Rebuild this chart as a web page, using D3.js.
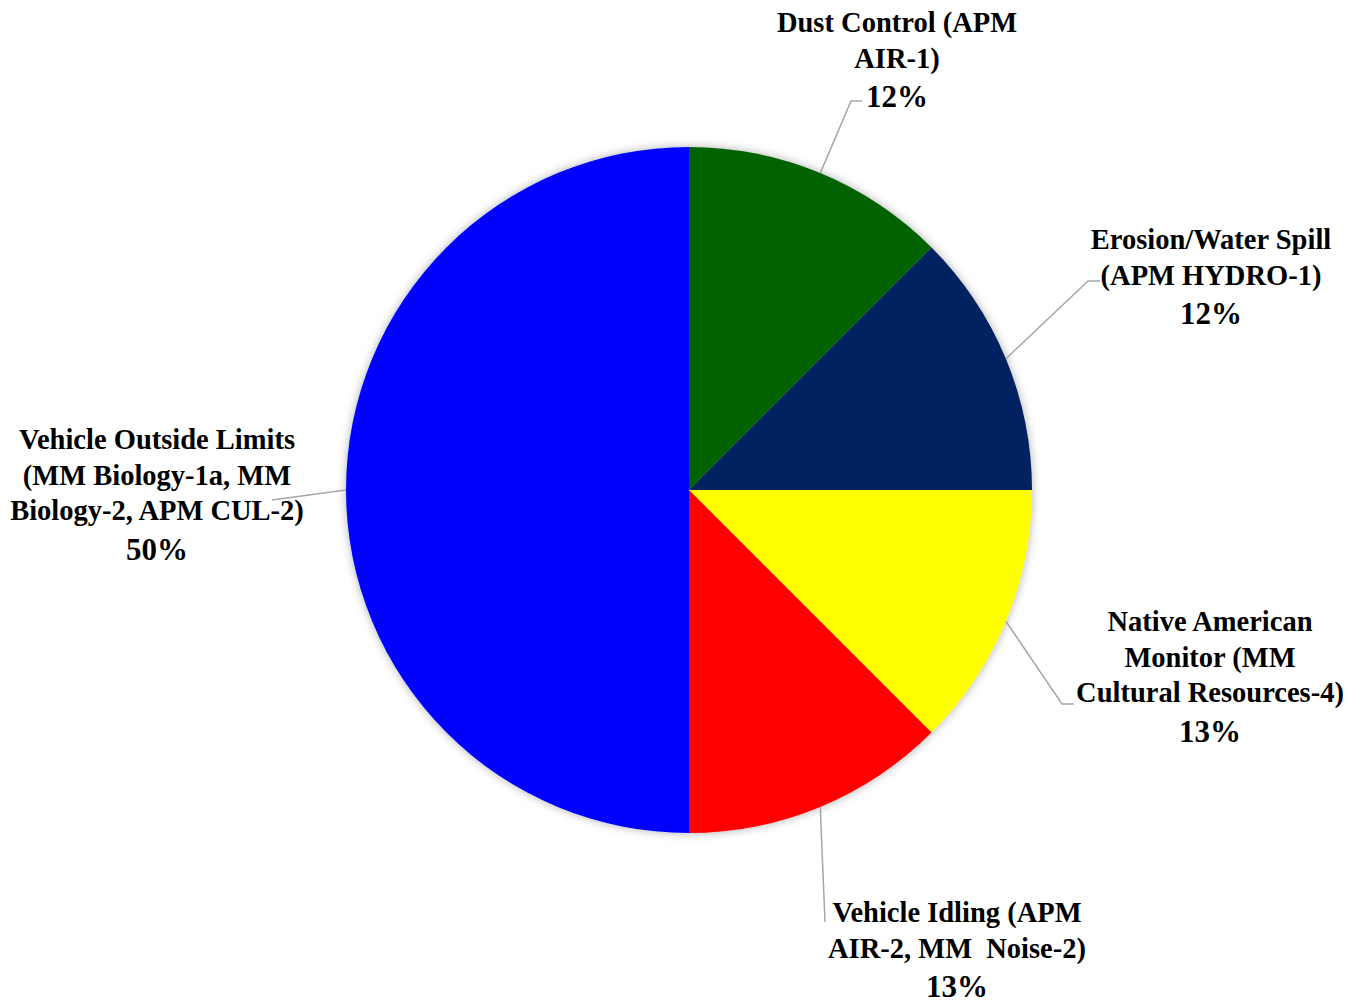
<!DOCTYPE html>
<html>
<head>
<meta charset="utf-8">
<script src="https://cdn.jsdelivr.net/npm/d3@7"></script>
<style>
  html, body { margin: 0; padding: 0; background: #fff; }
  svg { display: block; }
  text { font-family: "Liberation Serif", "DejaVu Serif", serif; font-weight: bold; fill: #000; }
</style>
</head>
<body>
<svg id="chart" width="1348" height="1007"></svg>
<script>
// Share of incidents by mitigation measure
const categories = [
  ["Dust Control (APM", "AIR-1)"],
  ["Erosion/Water Spill", "(APM HYDRO-1)"],
  ["Native American", "Monitor (MM", "Cultural Resources-4)"],
  ["Vehicle Idling (APM", "AIR-2, MM\u00a0 Noise-2)"],
  ["Vehicle Outside Limits", "(MM Biology-1a, MM", "Biology-2, APM CUL-2)"]
];
const counts = [1, 1, 1, 1, 4];
const pctLabels = ["12%", "12%", "13%", "13%", "50%"];
const colors = ["#006400", "#002060", "#FFFF00", "#FF0000", "#0000FF"];

// Layout of the callouts: text block centre and first baseline (relative to pie centre),
// and the elbow/end of each leader line.
const cx = 689, cy = 490, radius = 343;
const callouts = [
  { x: 208,  y: -458, elbow: [162, -389], end: [173, -389] },
  { x: 522,  y: -241, elbow: [399, -209], end: [411, -209] },
  { x: 521,  y: 141,  elbow: [373, 214],  end: [385, 214] },
  { x: 268,  y: 432,  elbow: null,        end: [136, 432] },
  { x: -532, y: -41,  elbow: null,        end: [-417, 10] }
];
const lineGap = 35.5, pctGap = 39.5;

const svg = d3.select("#chart");

const defs = svg.append("defs");
const shadow = defs.append("filter").attr("id", "pieShadow")
  .attr("x", "-10%").attr("y", "-10%").attr("width", "120%").attr("height", "120%");
shadow.append("feGaussianBlur").attr("in", "SourceAlpha").attr("stdDeviation", 5).attr("result", "blur");
shadow.append("feFlood").attr("flood-color", "#000").attr("flood-opacity", 0.32);
shadow.append("feComposite").attr("in2", "blur").attr("operator", "in").attr("result", "shade");
const merge = shadow.append("feMerge");
merge.append("feMergeNode").attr("in", "shade");
merge.append("feMergeNode").attr("in", "SourceGraphic");

const g = svg.append("g").attr("transform", `translate(${cx},${cy})`);

const pie = d3.pie().sort(null).value(d => d);
const arcs = pie(counts);
const arc = d3.arc().innerRadius(0).outerRadius(radius);

g.append("g").attr("filter", "url(#pieShadow)")
  .selectAll("path")
  .data(arcs)
  .join("path")
  .attr("d", arc)
  .attr("fill", (d, i) => colors[i]);

// leader lines from the rim at each slice's mid-angle
g.append("g").selectAll("polyline")
  .data(arcs)
  .join("polyline")
  .attr("points", (d, i) => {
    const a = (d.startAngle + d.endAngle) / 2;
    const p0 = [Math.sin(a) * radius, -Math.cos(a) * radius];
    const c = callouts[i];
    const pts = [p0];
    if (c.elbow) pts.push(c.elbow);
    pts.push(c.end);
    return pts.map(p => p.join(",")).join(" ");
  })
  .attr("fill", "none")
  .attr("stroke", "#A6A6A6")
  .attr("stroke-width", 1.5);

// callout text blocks
const labels = g.append("g").selectAll("g")
  .data(arcs)
  .join("g")
  .attr("transform", (d, i) => `translate(${callouts[i].x},${callouts[i].y})`);

labels.each(function (d, i) {
  const sel = d3.select(this);
  const lines = categories[i];
  lines.forEach((t, k) => {
    sel.append("text")
      .attr("x", 0).attr("y", k * lineGap)
      .attr("text-anchor", "middle")
      .attr("font-size", 28.5)
      .text(t);
  });
  sel.append("text")
    .attr("x", 0).attr("y", (lines.length - 1) * lineGap + pctGap)
    .attr("text-anchor", "middle")
    .attr("font-size", 31)
    .text(pctLabels[i]);
});
</script>
</body>
</html>
